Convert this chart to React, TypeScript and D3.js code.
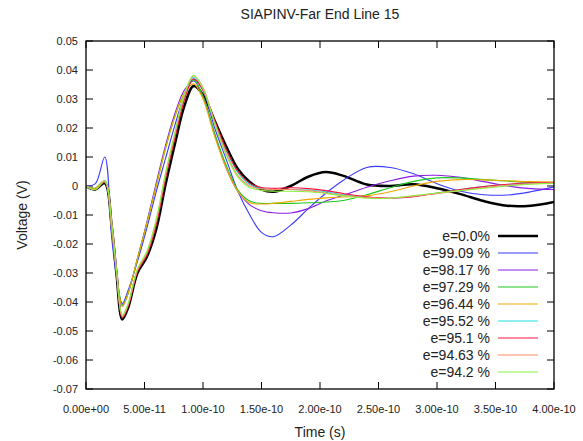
import React from "react";
import * as d3 from "d3";

const W = 583;
const H = 441;

// time grid in picoseconds
const T = [0, 8, 16, 22, 26, 31, 36, 44, 52, 60, 68, 76, 84, 92, 100, 110, 120, 130, 140, 150, 160, 175, 190, 205, 220, 240, 260, 280, 300, 320, 340, 360, 380, 400];

const vBlack = [0, -0.0012, 0.001, -0.014, -0.03, -0.046, -0.042, -0.03, -0.0245, -0.015, 0.0005, 0.0145, 0.0275, 0.0345, 0.0315, 0.0225, 0.0135, 0.0058, 0.0014, -0.0012, -0.002, 0.0, 0.0032, 0.0048, 0.0035, 0.0005, 0.0, 0.0006, -0.0008, -0.0028, -0.0052, -0.0068, -0.0068, -0.0055];
const vBlue = [0, 0.0008, 0.01, -0.018, -0.031, -0.0405, -0.036, -0.026, -0.0145, -0.002, 0.0095, 0.021, 0.031, 0.0368, 0.033, 0.02, 0.009, -0.002, -0.01, -0.016, -0.0175, -0.0135, -0.0078, -0.0025, 0.002, 0.0064, 0.0064, 0.0042, 0.0008, -0.0018, -0.003, -0.0031, -0.002, -0.0003];
const vPurple = [0, -0.0008, 0.0018, -0.016, -0.03, -0.0415, -0.037, -0.025, -0.0125, 0.001, 0.014, 0.025, 0.033, 0.0362, 0.031, 0.018, 0.006, -0.002, -0.0065, -0.0085, -0.0092, -0.0093, -0.0078, -0.0052, -0.0032, -0.0004, 0.0018, 0.0034, 0.0037, 0.003, 0.0015, 0.0, -0.0009, -0.0012];
const vGreen = [0, -0.0008, 0.0018, -0.015, -0.029, -0.041, -0.037, -0.025, -0.013, 0.0, 0.013, 0.024, 0.032, 0.0365, 0.031, 0.018, 0.007, -0.0015, -0.0052, -0.006, -0.006, -0.006, -0.0058, -0.0055, -0.005, -0.003, -0.0006, 0.0016, 0.0028, 0.0028, 0.0022, 0.0017, 0.0012, 0.001];
const vOrange = [0, -0.0008, 0.0018, -0.015, -0.029, -0.0415, -0.037, -0.025, -0.013, 0.0, 0.013, 0.024, 0.032, 0.0352, 0.03, 0.017, 0.006, -0.002, -0.0058, -0.0062, -0.006, -0.0053, -0.0046, -0.0041, -0.0038, -0.0034, -0.002, 0.0, 0.0016, 0.0022, 0.0021, 0.0018, 0.0015, 0.0014];
const vCyan = [0, -0.0012, 0.0014, -0.013, -0.029, -0.045, -0.041, -0.029, -0.0235, -0.013, 0.003, 0.017, 0.03, 0.0375, 0.033, 0.022, 0.012, 0.0045, 0.0005, -0.0008, -0.0012, -0.0012, -0.0014, -0.002, -0.003, -0.0038, -0.0042, -0.0036, -0.0024, -0.0012, -0.0002, 0.0005, 0.001, 0.0012];
const vRed = [0, -0.0012, 0.0014, -0.013, -0.029, -0.0455, -0.0415, -0.0295, -0.0238, -0.0135, 0.0025, 0.0165, 0.0295, 0.037, 0.033, 0.0225, 0.0125, 0.005, 0.001, -0.0005, -0.0008, -0.0006, -0.0009, -0.0016, -0.0026, -0.0037, -0.0042, -0.0037, -0.0025, -0.0012, -0.0002, 0.0006, 0.0011, 0.0013];
const vSalmon = [0, -0.0012, 0.0016, -0.013, -0.029, -0.045, -0.041, -0.029, -0.023, -0.012, 0.004, 0.018, 0.031, 0.038, 0.034, 0.022, 0.011, 0.0035, 0.0, -0.001, -0.0012, -0.0012, -0.0016, -0.0024, -0.0032, -0.004, -0.0042, -0.0035, -0.0026, -0.0016, -0.0006, 0.0002, 0.0008, 0.0011];
const vLime = [0, -0.0012, 0.0018, -0.013, -0.029, -0.0445, -0.0405, -0.0285, -0.0225, -0.0115, 0.0045, 0.0185, 0.0315, 0.0382, 0.0335, 0.0215, 0.0105, 0.003, -0.0005, -0.0015, -0.0018, -0.0018, -0.002, -0.0026, -0.0034, -0.0042, -0.0042, -0.0033, -0.0024, -0.0016, -0.0008, 0.0, 0.0006, 0.001];

const SERIES_NAMES = ["e=0.0%", "e=99.09 %", "e=98.17 %", "e=97.29 %", "e=96.44 %", "e=95.52 %", "e=95.1 %", "e=94.63 %", "e=94.2 %"];
const SERIES_VALUES = [vBlack, vBlue, vPurple, vGreen, vOrange, vCyan, vRed, vSalmon, vLime];
const SERIES_COLORS = ["#000000", "#3a3aff", "#8a1ee6", "#1ec81e", "#f0a800", "#20e0e0", "#ff1040", "#ff8a6a", "#8cf040"];
const SERIES_WIDTHS = [2.5, 1.1, 1.1, 1.1, 1.1, 1.1, 1.1, 1.1, 1.1];

const X_TICKS = [0, 50, 100, 150, 200, 250, 300, 350, 400];
const X_TICK_LABELS = ["0.00e+00", "5.00e-11", "1.00e-10", "1.50e-10", "2.00e-10", "2.50e-10", "3.00e-10", "3.50e-10", "4.00e-10"];
const Y_TICKS = [0.05, 0.04, 0.03, 0.02, 0.01, 0, -0.01, -0.02, -0.03, -0.04, -0.05, -0.06, -0.07];
const Y_TICK_LABELS = ["0.05", "0.04", "0.03", "0.02", "0.01", "0", "-0.01", "-0.02", "-0.03", "-0.04", "-0.05", "-0.06", "-0.07"];

const TITLE = "SIAPINV-Far End Line 15";
const X_LABEL = "Time (s)";
const Y_LABEL = "Voltage (V)";

const M = { left: 86, right: 554, top: 41, bottom: 389 };
const FONT = "'Liberation Sans', Arial, sans-serif";

export default function App() {
  const x = d3.scaleLinear().domain([0, 400]).range([M.left, M.right]);
  const y = d3.scaleLinear().domain([-0.07, 0.05]).range([M.bottom, M.top]);
  const line = d3
    .line<number>()
    .x((_, i) => x(T[i]))
    .y((d) => y(d))
    .curve(d3.curveCatmullRom.alpha(0.5));
  const tick = 7;
  const legX = 490;
  const legY0 = 236;
  const legStep = 17;

  return (
    <div style={{ position: "absolute", left: 0, top: 0 }}>
      <svg width={W} height={H} style={{ display: "block", background: "#fff" }} fontFamily={FONT}>
        <rect x={0} y={0} width={W} height={H} fill="#fff" />
        <text x={(M.left + M.right) / 2} y={19} textAnchor="middle" fontSize={14} fill="#222">
          {TITLE}
        </text>
        <defs>
          <clipPath id="plot">
            <rect x={M.left} y={M.top} width={M.right - M.left} height={M.bottom - M.top} />
          </clipPath>
        </defs>
        {X_TICKS.map((t, i) => (
          <g key={"x" + i}>
            <line x1={x(t)} x2={x(t)} y1={M.bottom} y2={M.bottom - tick} stroke="#000" strokeWidth={1} />
            <line x1={x(t)} x2={x(t)} y1={M.top} y2={M.top + tick} stroke="#000" strokeWidth={1} />
            <text x={x(t)} y={413} textAnchor="middle" fontSize={11} fill="#222">
              {X_TICK_LABELS[i]}
            </text>
          </g>
        ))}
        {Y_TICKS.map((v, i) => (
          <g key={"y" + i}>
            <line x1={M.left} x2={M.left + tick} y1={y(v)} y2={y(v)} stroke="#000" strokeWidth={1} />
            <line x1={M.right} x2={M.right - tick} y1={y(v)} y2={y(v)} stroke="#000" strokeWidth={1} />
            <text x={78} y={y(v) + 4} textAnchor="end" fontSize={11} fill="#222">
              {Y_TICK_LABELS[i]}
            </text>
          </g>
        ))}
        <g clipPath="url(#plot)">
          {SERIES_VALUES.map((vals, i) => (
            <path
              key={"s" + i}
              d={line(vals) || ""}
              fill="none"
              stroke={SERIES_COLORS[i]}
              strokeWidth={SERIES_WIDTHS[i]}
              strokeLinejoin="round"
            />
          ))}
        </g>
        <rect
          x={M.left}
          y={M.top}
          width={M.right - M.left}
          height={M.bottom - M.top}
          fill="none"
          stroke="#000"
          strokeWidth={1.3}
        />
        {SERIES_NAMES.map((name, i) => (
          <g key={"l" + i}>
            <text x={legX} y={legY0 + i * legStep + 5} textAnchor="end" fontSize={14} fill="#222">
              {name}
            </text>
            <line
              x1={498}
              x2={538}
              y1={legY0 + i * legStep}
              y2={legY0 + i * legStep}
              stroke={SERIES_COLORS[i]}
              strokeWidth={SERIES_WIDTHS[i]}
            />
          </g>
        ))}
        <text x={(M.left + M.right) / 2} y={437} textAnchor="middle" fontSize={14} fill="#222">
          {X_LABEL}
        </text>
        <text
          transform={`translate(27, ${(M.top + M.bottom) / 2}) rotate(-90)`}
          textAnchor="middle"
          fontSize={14}
          fill="#222"
        >
          {Y_LABEL}
        </text>
      </svg>
    </div>
  );
}
